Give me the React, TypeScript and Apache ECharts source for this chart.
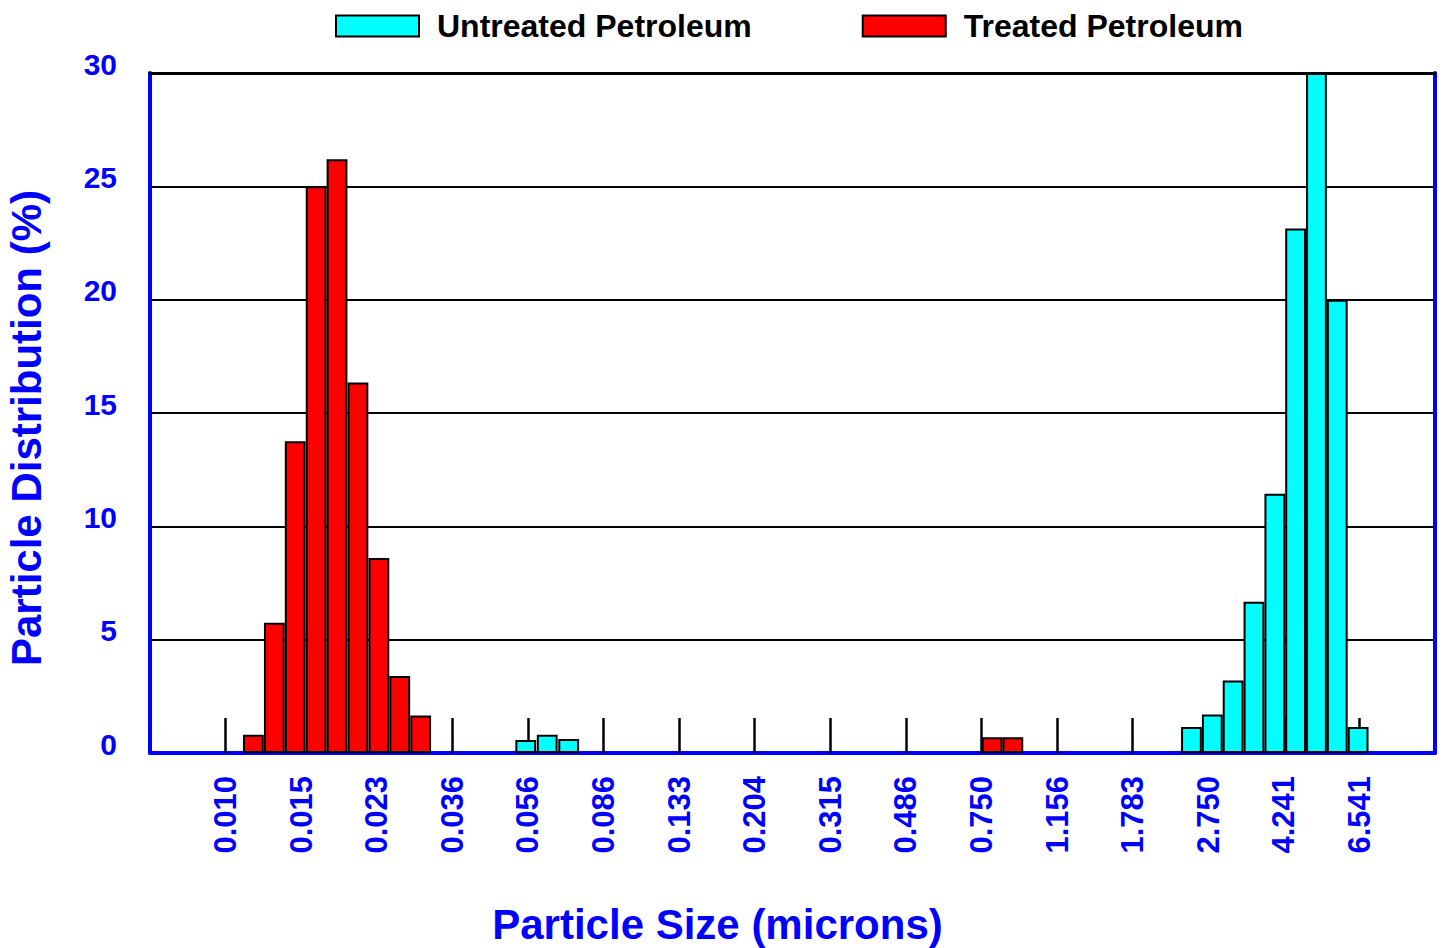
import React, { useEffect, useRef } from 'react';
import * as echarts from 'echarts';

// Particle size tick labels (microns), one per major x position 1..16
const sizeLabels = ['0.010', '0.015', '0.023', '0.036', '0.056', '0.086', '0.133', '0.204', '0.315', '0.486', '0.750', '1.156', '1.783', '2.750', '4.241', '6.541'];

// Bin centres expressed in label-index units (label k sits at position k)
const untreatedPos = [4.971, 5.255, 5.539, 13.778, 14.054, 14.329, 14.605, 14.881, 15.156, 15.432, 15.707, 15.983];
const untreatedVal = [0.57, 0.8, 0.62, 1.15, 1.7, 3.2, 6.67, 11.44, 23.14, 30, 20.0, 1.15];

const treatedPos = [1.368, 1.645, 1.921, 2.198, 2.474, 2.751, 3.028, 3.304, 3.581, 11.141, 11.415];
const treatedVal = [0.8, 5.75, 13.75, 25.0, 26.2, 16.35, 8.6, 3.4, 1.65, 0.7, 0.7];

const yTicks = { min: 0, max: 30, interval: 5 };

const BLUE = '#0000FF';
const FONT = '"Liberation Sans", Arial, Helvetica, sans-serif';

export default function App() {
  const ref = useRef<HTMLDivElement>(null);

  useEffect(() => {
    if (!ref.current) return;
    const chart = echarts.init(ref.current, null, { renderer: 'svg' });
    const tickPositions = sizeLabels.map((_, i) => i + 1);

    chart.setOption({
      animation: false,
      backgroundColor: '#ffffff',
      legend: {
        top: 10,
        left: 335,
        padding: 0,
        itemGap: 110,
        itemWidth: 83,
        itemHeight: 21,
        icon: 'rect',
        itemStyle: { borderColor: '#000', borderWidth: 2 },
        textStyle: {
          fontFamily: FONT,
          fontWeight: 'bold',
          fontSize: 32,
          color: '#000',
          padding: [0, 0, 0, 13],
        },
        data: ['Untreated Petroleum', 'Treated Petroleum'],
      },
      grid: {
        left: 150,
        right: 10,
        top: 73,
        bottom: 195,
        containLabel: false,
        outerBoundsMode: 'none',
      },
      xAxis: [
        {
          type: 'value',
          min: 0,
          max: sizeLabels.length + 1,
          interval: 1,
          position: 'bottom',
          name: 'Particle Size (microns)',
          nameLocation: 'middle',
          nameGap: 150,
          nameTextStyle: {
            color: BLUE,
            fontFamily: FONT,
            fontWeight: 'bold',
            fontSize: 42,
            padding: [0, 150, 0, 0],
          },
          axisLine: { show: true, onZero: false, lineStyle: { color: BLUE, width: 4 } },
          axisTick: {
            show: true,
            inside: true,
            length: 35,
            customValues: tickPositions,
            lineStyle: { color: '#000', width: 2.5 },
          },
          axisLabel: {
            customValues: tickPositions,
            rotate: 90,
            margin: 23,
            color: BLUE,
            fontFamily: FONT,
            fontWeight: 'bold',
            fontSize: 31,
            formatter: (v: number) => sizeLabels[Math.round(v) - 1] ?? '',
          },
          splitLine: { show: false },
        },
        {
          type: 'value',
          min: 0,
          max: sizeLabels.length + 1,
          position: 'top',
          axisLine: { show: true, onZero: false, lineStyle: { color: '#000', width: 3 } },
          axisTick: { show: false },
          axisLabel: { show: false },
          splitLine: { show: false },
        },
      ],
      yAxis: [
        {
          type: 'value',
          min: yTicks.min,
          max: yTicks.max,
          interval: yTicks.interval,
          position: 'left',
          name: 'Particle Distribution (%)',
          nameLocation: 'middle',
          nameGap: 103,
          nameTextStyle: {
            color: BLUE,
            fontFamily: FONT,
            fontWeight: 'bold',
            fontSize: 42,
            padding: [0, 30, 0, 0],
          },
          axisLine: { show: true, onZero: false, lineStyle: { color: BLUE, width: 4 } },
          axisTick: { show: false },
          axisLabel: {
            margin: 33,
            formatter: '{t|{value}}',
            rich: {
              t: {
                color: BLUE,
                fontFamily: FONT,
                fontWeight: 'bold',
                fontSize: 30,
                padding: [0, 0, 18, 0],
              },
            },
          },
          splitLine: { show: true, lineStyle: { color: '#000', width: 2 } },
        },
        {
          type: 'value',
          min: yTicks.min,
          max: yTicks.max,
          position: 'right',
          axisLine: { show: true, onZero: false, lineStyle: { color: BLUE, width: 4 } },
          axisTick: { show: false },
          axisLabel: { show: false },
          splitLine: { show: false },
        },
      ],
      series: [
        {
          name: 'Untreated Petroleum',
          type: 'bar',
          xAxisIndex: 0,
          yAxisIndex: 0,
          barWidth: 20.8,
          barGap: '-100%',
          itemStyle: { color: '#00FFFF', borderColor: '#000', borderWidth: 2 },
          data: untreatedPos.map((x, i) => [x, untreatedVal[i]]),
        },
        {
          name: 'Treated Petroleum',
          type: 'bar',
          xAxisIndex: 0,
          yAxisIndex: 0,
          barWidth: 20.8,
          barGap: '-100%',
          itemStyle: { color: '#FF0000', borderColor: '#000', borderWidth: 2 },
          data: treatedPos.map((x, i) => [x, treatedVal[i]]),
        },
      ],
    });

    return () => chart.dispose();
  }, []);

  return (
    <div
      ref={ref}
      style={{ position: 'fixed', left: 0, top: 0, width: 1445, height: 948, background: '#fff' }}
    />
  );
}
